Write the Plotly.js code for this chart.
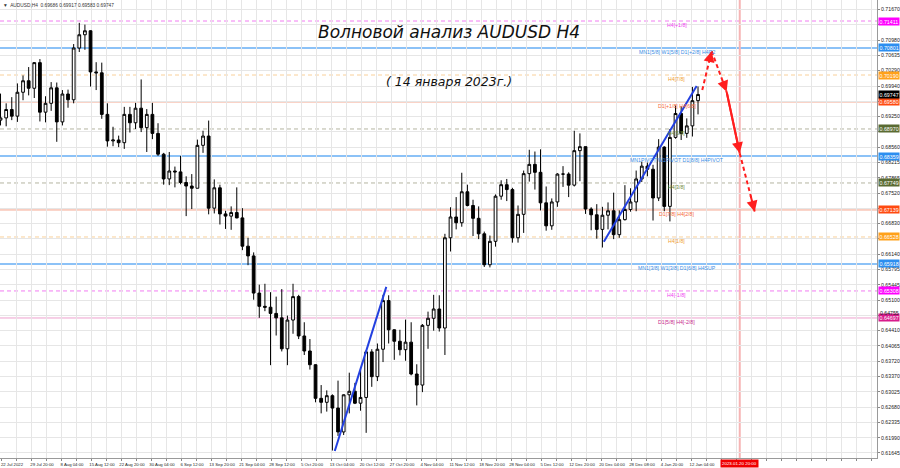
<!DOCTYPE html>
<html><head><meta charset="utf-8">
<script src="https://cdn.plot.ly/plotly-3.0.1.min.js"></script>
<style>html,body{margin:0;padding:0;background:#fff;}#chart{width:900px;height:468px;}</style>
</head><body><div id="chart"></div>
<script>
// ---- data (daily sessions) ----
const dates = ["2022-07-22","2022-07-25","2022-07-26","2022-07-27","2022-07-28","2022-07-29",
"2022-08-01","2022-08-02","2022-08-03","2022-08-04","2022-08-05",
"2022-08-08","2022-08-09","2022-08-10","2022-08-11","2022-08-12",
"2022-08-15","2022-08-16","2022-08-17","2022-08-18","2022-08-19",
"2022-08-22","2022-08-23","2022-08-24","2022-08-25","2022-08-26",
"2022-08-29","2022-08-30","2022-08-31","2022-09-01","2022-09-02",
"2022-09-05","2022-09-06","2022-09-07","2022-09-08","2022-09-09",
"2022-09-12","2022-09-13","2022-09-14","2022-09-15","2022-09-16",
"2022-09-19","2022-09-20","2022-09-21","2022-09-22","2022-09-23",
"2022-09-26","2022-09-27","2022-09-28","2022-09-29","2022-09-30",
"2022-10-03","2022-10-04","2022-10-05","2022-10-06","2022-10-07",
"2022-10-10","2022-10-11","2022-10-12","2022-10-13","2022-10-14",
"2022-10-17","2022-10-18","2022-10-19","2022-10-20","2022-10-21",
"2022-10-24","2022-10-25","2022-10-26","2022-10-27","2022-10-28",
"2022-10-31","2022-11-01","2022-11-02","2022-11-03","2022-11-04",
"2022-11-07","2022-11-08","2022-11-09","2022-11-10","2022-11-11",
"2022-11-14","2022-11-15","2022-11-16","2022-11-17","2022-11-18",
"2022-11-21","2022-11-22","2022-11-23","2022-11-24","2022-11-25",
"2022-11-28","2022-11-29","2022-11-30","2022-12-01","2022-12-02",
"2022-12-05","2022-12-06","2022-12-07","2022-12-08","2022-12-09",
"2022-12-12","2022-12-13","2022-12-14","2022-12-15","2022-12-16",
"2022-12-19","2022-12-20","2022-12-21","2022-12-22","2022-12-23",
"2022-12-27","2022-12-28","2022-12-29","2022-12-30",
"2023-01-02","2023-01-03","2023-01-04","2023-01-05","2023-01-06",
"2023-01-09","2023-01-10","2023-01-11","2023-01-12","2023-01-13"];
const openP = [0.6917,0.6922,0.6941,0.6926,0.6980,0.7006,
0.6989,0.7047,0.6935,0.6955,0.6990,
0.6913,0.6976,0.6963,0.7080,0.7110,
0.7119,0.7026,0.7024,0.6930,0.6870,
0.6872,0.6866,0.6930,0.6911,0.6944,
0.6900,0.6930,0.6887,0.6840,0.6784,
0.6802,0.6800,0.6776,0.6768,0.6763,
0.6860,0.6881,0.6718,0.6764,0.6705,
0.6700,0.6708,0.6696,0.6632,0.6610,
0.6526,0.6496,0.6494,0.6480,0.6470,
0.6400,0.6465,0.6518,0.6429,0.6395,
0.6364,0.6288,0.6279,0.6294,0.6266,
0.6212,0.6296,0.6304,0.6277,0.6290,
0.6393,0.6337,0.6399,0.6509,0.6443,
0.6417,0.6398,0.6415,0.6343,0.6318,
0.6453,0.6469,0.6490,0.6447,0.6651,
0.6698,0.6685,0.6755,0.6724,0.6695,
0.6660,0.6590,0.6643,0.6745,0.6771,
0.6760,0.6651,0.6704,0.6796,0.6817,
0.6799,0.6730,0.6678,0.6732,0.6795,
0.6795,0.6770,0.6848,0.6857,0.6716,
0.6703,0.6670,0.6702,0.6712,0.6658,
0.6692,0.6715,0.6732,0.6784,
0.6813,0.6806,0.6741,0.6856,0.6722,
0.6878,0.6932,0.6887,0.6904,0.6961];
const highP = [0.6977,0.6955,0.6969,0.7000,0.7018,0.7037,
0.7048,0.7055,0.6971,0.7003,0.7002,
0.6985,0.6986,0.7089,0.7137,0.7133,
0.7120,0.7048,0.7047,0.6955,0.6902,
0.6882,0.6947,0.6947,0.6956,0.7009,
0.6942,0.6956,0.6910,0.6843,0.6845,
0.6812,0.6836,0.6790,0.6795,0.6873,
0.6893,0.6916,0.6783,0.6771,0.6712,
0.6722,0.6765,0.6718,0.6651,0.6618,
0.6545,0.6547,0.6528,0.6518,0.6535,
0.6475,0.6547,0.6522,0.6460,0.6422,
0.6365,0.6318,0.6306,0.6297,0.6328,
0.6297,0.6346,0.6323,0.6358,0.6397,
0.6399,0.6412,0.6522,0.6521,0.6444,
0.6443,0.6466,0.6460,0.6365,0.6456,
0.6484,0.6522,0.6521,0.6660,0.6720,
0.6743,0.6798,0.6771,0.6737,0.6722,
0.6665,0.6656,0.6749,0.6781,0.6784,
0.6764,0.6724,0.6803,0.6850,0.6846,
0.6851,0.6767,0.6740,0.6797,0.6813,
0.6799,0.6893,0.6887,0.6857,0.6720,
0.6727,0.6721,0.6731,0.6753,0.6713,
0.6770,0.6763,0.6803,0.6823,
0.6821,0.6816,0.6874,0.6858,0.6897,
0.6950,0.6948,0.6921,0.6992,0.6993];
const lowP = [0.6905,0.6903,0.6917,0.6913,0.6962,0.6973,
0.6967,0.6914,0.6912,0.6938,0.6868,
0.6905,0.6945,0.6955,0.7071,0.7076,
0.6993,0.6985,0.6920,0.6857,0.6858,
0.6856,0.6852,0.6889,0.6897,0.6890,
0.6845,0.6874,0.6836,0.6771,0.6770,
0.6765,0.6772,0.6700,0.6716,0.6763,
0.6843,0.6704,0.6706,0.6681,0.6671,
0.6669,0.6695,0.6623,0.6589,0.6511,
0.6470,0.6485,0.6363,0.6430,0.6394,
0.6363,0.6434,0.6422,0.6386,0.6353,
0.6279,0.6254,0.6258,0.6170,0.6203,
0.6205,0.6254,0.6275,0.6260,0.6210,
0.6314,0.6327,0.6370,0.6412,0.6375,
0.6385,0.6373,0.6340,0.6272,0.6302,
0.6400,0.6441,0.6439,0.6386,0.6620,
0.6670,0.6676,0.6722,0.6655,0.6648,
0.6585,0.6584,0.6631,0.6737,0.6734,
0.6640,0.6640,0.6662,0.6778,0.6760,
0.6713,0.6667,0.6669,0.6721,0.6766,
0.6743,0.6767,0.6779,0.6705,0.6668,
0.6649,0.6629,0.6670,0.6648,0.6651,
0.6690,0.6710,0.6711,0.6777,
0.6790,0.6690,0.6734,0.6711,0.6688,
0.6875,0.6872,0.6877,0.6880,0.6930];
const closeP = [0.6922,0.6941,0.6926,0.6980,0.7006,0.6989,
0.7047,0.6935,0.6955,0.6990,0.6913,
0.6976,0.6963,0.7080,0.7110,0.7119,
0.7026,0.7024,0.6930,0.6870,0.6872,
0.6866,0.6930,0.6911,0.6944,0.6900,
0.6930,0.6887,0.6840,0.6784,0.6802,
0.6800,0.6776,0.6768,0.6763,0.6860,
0.6881,0.6718,0.6764,0.6705,0.6700,
0.6708,0.6696,0.6632,0.6610,0.6526,
0.6496,0.6494,0.6480,0.6470,0.6400,
0.6465,0.6518,0.6429,0.6395,0.6364,
0.6288,0.6279,0.6294,0.6266,0.6212,
0.6296,0.6304,0.6277,0.6290,0.6393,
0.6337,0.6399,0.6509,0.6443,0.6417,
0.6398,0.6415,0.6343,0.6318,0.6453,
0.6469,0.6490,0.6447,0.6651,0.6698,
0.6685,0.6755,0.6724,0.6695,0.6660,
0.6590,0.6643,0.6745,0.6771,0.6760,
0.6651,0.6704,0.6796,0.6817,0.6799,
0.6730,0.6678,0.6732,0.6795,0.6795,
0.6770,0.6848,0.6857,0.6716,0.6703,
0.6670,0.6702,0.6712,0.6658,0.6692,
0.6715,0.6732,0.6784,0.6813,
0.6806,0.6741,0.6856,0.6722,0.6878,
0.6932,0.6887,0.6904,0.6961,0.6975];

const xTickLabels = ["22 Jul 2022","29 Jul 20:00","8 Aug 04:00","15 Aug 12:00","22 Aug 20:00","30 Aug 04:00",
"6 Sep 12:00","13 Sep 20:00","21 Sep 04:00","28 Sep 12:00","5 Oct 20:00","13 Oct 04:00","20 Oct 12:00",
"27 Oct 20:00","4 Nov 04:00","11 Nov 12:00","18 Nov 20:00","28 Nov 04:00","5 Dec 12:00","12 Dec 20:00",
"20 Dec 04:00","28 Dec 08:00","4 Jan 20:00","12 Jan 04:00"];
// price scale ticks (those hidden behind level boxes in the reference are drawn as grid only)
const yTickLabels = ["0.61645","0.61990","0.62335","0.62680","0.63025","0.63370","0.63720","0.64065","0.64410",
"0.64755","0.65100","0.65445","0.65795","0.66140","0.66485","0.66830","0.67175","0.67520","0.67865","0.68215",
"0.68560","0.68905","0.69250","0.69595","0.69940","0.70290","0.70635","0.70980","0.71325","0.71670"];
const yTickHidden = ["0.66485","0.67175","0.68905","0.69595","0.71325"];
const yTickNudged = ["0.64755"]; // drawn just above the neighbouring level box

const levelPrices = [0.71411,0.70801,0.70190,0.69580,0.68970,0.68359,0.67749,0.67139,0.66528,0.65918,0.65308,0.64697];
const levelNames = ["H4[+1/8]","MN1[5/8] W1[5/8] D1[+2/8] H4R2","H4[7/8]","D1[+1/8] H4[6/8]","H4[5/8]",
"MN1PIVOT W1PIVOT D1[8/8] H4PIVOT","H4[3/8]","D1[7/8] H4[2/8]","H4[1/8]","MN1[3/8] W1[3/8] D1[6/8] H4SUP",
"H4[-1/8]","D1[5/8] H4[-2/8]"];
const levelGroup = ["magenta","blue","orange","orangered","olive","blue","olive","orangered","orange","blue","magenta","pink"];

const headerText = "AUDUSD,H4  0.69686 0.69917 0.69583 0.69747";
const lastPrice = 0.69747;

const trend1Bars = [356, 411];
const trend1Prices = [0.6169, 0.6540];
const trend2Bars = [643, 742];
const trend2Prices = [0.6642, 0.6994];
const forecastBars = [748, 758, 774, 788, 804];
const forecastPrices = [0.6985, 0.7073, 0.6981, 0.6842, 0.6710];
const markerBar = 788;
const markerLabel = "2023.01.20 20:00";
const titleMain = "Волновой анализ AUDUSD H4";
const titleDate = "( 14 января 2023г.)";

// ---- styles ----
const S = {
  magenta:  {line:'#F27CF2', dash:'dash',  w:1, box:'#FF00FF', txt:'#F040F0'},
  blue:     {line:'#8CC2F7', dash:'solid', w:2, box:'#2C8EF0', txt:'#3A8EE6'},
  orange:   {line:'#F9D09A', dash:'dash',  w:1, box:'#FFA11A', txt:'#F0A030'},
  orangered:{line:'#F5A48C', dash:'solid', w:1, box:'#FF4A10', txt:'#F56A3A'},
  olive:    {line:'#B4B4A0', dash:'dash',  w:1, box:'#5A6B32', txt:'#6F8A3A'},
  pink:     {line:'#EFA0CF', dash:'solid', w:1, box:'#D81B8C', txt:'#C8288C'}
};
const FONT = 'Liberation Sans, Arial, sans-serif';
const barsPerDay = 6;
const xCenters = dates.map((d,i)=> i*barsPerDay - 0.5);

const traces = [];
traces.push({
  type:'candlestick', x:xCenters, open:openP, high:highP, low:lowP, close:closeP,
  text:dates, hoverinfo:'text+y',
  increasing:{line:{color:'#000',width:1}, fillcolor:'#ffffff'},
  decreasing:{line:{color:'#000',width:1}, fillcolor:'#000000'},
  whiskerwidth:0, showlegend:false
});
traces.push({type:'scatter',mode:'lines',x:trend1Bars,y:trend1Prices,line:{color:'#2340E0',width:2},hoverinfo:'skip',showlegend:false});
traces.push({type:'scatter',mode:'lines',x:trend2Bars,y:trend2Prices,line:{color:'#2340E0',width:2},hoverinfo:'skip',showlegend:false});
const segDash = ['dash','dash','solid','dash'];
for (let i=0;i<forecastBars.length-1;i++){
  traces.push({type:'scatter',mode:'lines',x:[forecastBars[i],forecastBars[i+1]],y:[forecastPrices[i],forecastPrices[i+1]],
    line:{color:'#FF1E1E',width:2,dash:segDash[i]==='dash'?'4px,3px':'solid'},hoverinfo:'skip',showlegend:false});
}

const shapes = [];
const annotations = [];
levelPrices.forEach((p,i)=>{
  const st = S[levelGroup[i]];
  shapes.push({type:'line',xref:'paper',x0:0,x1:1,yref:'y',y0:p,y1:p,layer:'below',
    line:{color:st.line,width:st.w,dash:st.dash==='dash'?'4px,3px':'solid'}});
  annotations.push({xref:'x',x:721,yref:'y',y:p,yanchor:'top',xanchor:'center',yshift:1,showarrow:false,
    text:levelNames[i],font:{family:FONT,size:5.2,color:st.txt}});
  annotations.push({xref:'paper',x:1,xanchor:'left',xshift:1,yref:'y',y:p,yanchor:'middle',showarrow:false,
    text:p.toFixed(5),bgcolor:st.box,borderpad:0.5,font:{family:FONT,size:5.3,color:'#fff'}});
});
annotations.push({xref:'paper',x:1,xanchor:'left',xshift:1,yref:'y',y:lastPrice,yanchor:'middle',showarrow:false,
  text:lastPrice.toFixed(5),bgcolor:'#000',borderpad:0.5,font:{family:FONT,size:5.3,color:'#fff'}});
yTickNudged.forEach(s=>{
  annotations.push({xref:'paper',x:1,xanchor:'left',xshift:2,yref:'y',y:Number(s),yanchor:'bottom',yshift:-1.5,showarrow:false,
    text:s,borderpad:0,font:{family:FONT,size:5.2,color:'#222'}});
});
// red time marker
shapes.push({type:'line',xref:'x',x0:markerBar,x1:markerBar,yref:'paper',y0:0,y1:1,layer:'below',line:{color:'#F6B4B4',width:2}});
annotations.push({xref:'x',x:markerBar,xanchor:'center',yref:'paper',y:0,yanchor:'top',yshift:-1,showarrow:false,
  text:markerLabel,bgcolor:'#F00000',borderpad:1,font:{family:FONT,size:4.4,color:'#fff'}});
// arrowheads
for (let i=0;i<forecastBars.length-1;i++){
  const solid = segDash[i]==='solid';
  const t = solid ? 0 : 0.7;
  annotations.push({xref:'x',yref:'y',x:forecastBars[i+1],y:forecastPrices[i+1],
    axref:'x',ayref:'y',ax:forecastBars[i]+(forecastBars[i+1]-forecastBars[i])*t,
    ay:forecastPrices[i]+(forecastPrices[i+1]-forecastPrices[i])*t,
    showarrow:true,arrowhead:2,arrowsize:1.1,arrowwidth:2,arrowcolor:'#FF1E1E',text:''});
}
// header and titles
annotations.push({xref:'paper',x:0,xanchor:'left',xshift:1,yref:'paper',y:1,yanchor:'top',yshift:-1,showarrow:false,
  text:'▼  '+headerText,font:{family:FONT,size:4.8,color:'#333'}});
annotations.push({xref:'paper',x:0.512,xanchor:'center',yref:'paper',y:0.930,yanchor:'middle',showarrow:false,
  text:titleMain,font:{family:'DejaVu Sans, sans-serif',size:17,color:'#111',style:'italic'}});
annotations.push({xref:'paper',x:0.512,xanchor:'center',yref:'paper',y:0.821,yanchor:'middle',showarrow:false,
  text:titleDate,font:{family:'DejaVu Sans, sans-serif',size:12.5,color:'#111',style:'italic'}});

// x ticks: grid every 16 bars, labels every 32 bars
const tickVals = [], tickText = [];
for (let i=0;i*16<=934;i++){
  tickVals.push(i*16);
  tickText.push((i%2===0 && i/2<xTickLabels.length)? xTickLabels[i/2] : '');
}
const yVals = yTickLabels.map(Number);
const yText = yTickLabels.map(s => (yTickHidden.includes(s) || yTickNudged.includes(s)) ? '' : s);

const layout = {
  width:900,height:468,margin:{l:0,r:23,t:0,b:10},
  paper_bgcolor:'#fff',plot_bgcolor:'#fff',showlegend:false,
  xaxis:{type:'linear',range:[-1.07,934.4],tickvals:tickVals,ticktext:tickText,tickangle:0,automargin:false,
    rangeslider:{visible:false},showgrid:true,gridcolor:'#E6E6E6',gridwidth:1,zeroline:false,
    ticks:'outside',ticklen:2,tickcolor:'#888',ticklabelshift:11,ticklabelstandoff:0,
    tickfont:{family:FONT,size:4.3,color:'#222'},
    showline:true,linecolor:'#9A9A9A',linewidth:1,mirror:true,fixedrange:true},
  yaxis:{side:'right',range:[0.61531,0.71886],tickvals:yVals,ticktext:yText,automargin:false,
    showgrid:true,gridcolor:'#E6E6E6',gridwidth:1,zeroline:false,ticks:'outside',ticklen:2,tickcolor:'#888',
    tickfont:{family:FONT,size:5.2,color:'#222'},
    showline:true,linecolor:'#9A9A9A',linewidth:1,mirror:true,fixedrange:true},
  shapes:shapes,annotations:annotations
};
Plotly.newPlot('chart',traces,layout,{displayModeBar:false,staticPlot:true});
</script></body></html>
